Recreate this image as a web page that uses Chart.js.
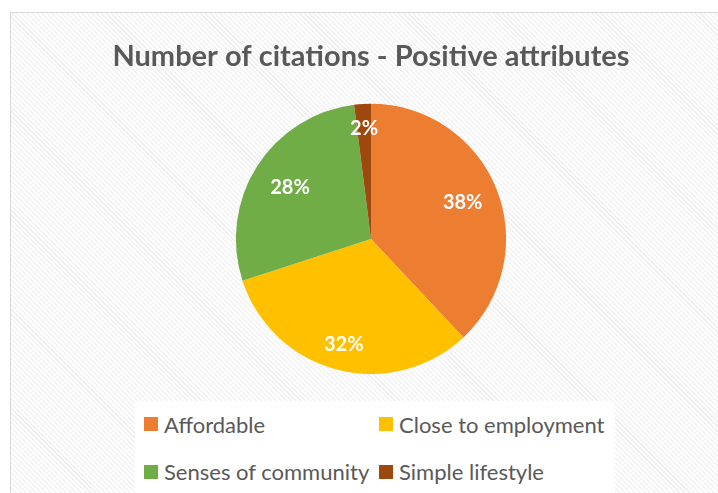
<!DOCTYPE html>
<html lang="en">
<head>
<meta charset="UTF-8">
<title>Number of citations - Positive attributes</title>
<script src="https://cdn.jsdelivr.net/npm/chart.js"></script>
<style>
  html, body { margin: 0; padding: 0; background: #ffffff; }
  body { width: 718px; height: 493px; overflow: hidden; position: relative; }
  .moldura {
    position: absolute; left: 10px; top: 12px; width: 720px; height: 490px;
    border: 1.5px solid #d9d9d9; box-sizing: border-box;
    background: repeating-linear-gradient(45deg, #ffffff 0px, #ffffff 2px, #f2f2f2 2px, #f2f2f2 3.5px);
  }
  canvas#grafico { position: absolute; left: 0; top: 0; }
  .legenda {
    position: absolute; left: 124px; top: 388px; width: 480px; height: 92px;
    background: #ffffff;
    display: grid; grid-template-columns: 235px 245px; row-gap: 12px;
    padding: 9px 0 0 9px; box-sizing: border-box;
    font-family: Lato, "Open Sans", sans-serif; font-size: 22px; color: #595959;
  }
  .item { display: flex; align-items: center; height: 28px; white-space: nowrap; }
  .item span.cor { width: 14px; height: 14px; margin-right: 6px; display: inline-block; }
</style>
</head>
<body>
<div class="moldura">
  <canvas id="grafico" width="708" height="481"></canvas>
  <div class="legenda" id="legenda"></div>
</div>

<script>
  const categorias = ["Affordable", "Close to employment", "Senses of community", "Simple lifestyle"];
  const citacoes = [38, 32, 28, 2];
  const cores = ["#ED7D31", "#FFC000", "#70AD47", "#9E480E"];

  // rótulos de porcentagem dentro das fatias
  const rotulosPct = {
    id: 'rotulosPct',
    afterDatasetsDraw(chart, args, opts) {
      const ctx = chart.ctx;
      const meta = chart.getDatasetMeta(0);
      const total = citacoes.reduce((a, b) => a + b, 0);
      ctx.save();
      ctx.font = 'bold 20px Lato, "Open Sans", sans-serif';
      ctx.fillStyle = '#ffffff';
      ctx.textAlign = 'center';
      ctx.textBaseline = 'middle';
      meta.data.forEach((arc, i) => {
        const meio = (arc.startAngle + arc.endAngle) / 2;
        const d = arc.outerRadius * opts.distancias[i];
        const x = arc.x + Math.cos(meio) * d;
        const y = arc.y + Math.sin(meio) * d;
        ctx.fillText(Math.round(citacoes[i] / total * 100) + '%', x, y);
      });
      ctx.restore();
    }
  };

  new Chart(document.getElementById('grafico'), {
    type: 'pie',
    data: {
      labels: categorias,
      datasets: [{
        data: citacoes,
        backgroundColor: cores,
        borderWidth: 0
      }]
    },
    options: {
      responsive: false,
      animation: false,
      layout: { padding: { top: 0, bottom: 120, left: 12, right: 0 } },
      plugins: {
        legend: { display: false },
        tooltip: { enabled: false },
        title: {
          display: true,
          text: 'Number of citations - Positive attributes',
          color: '#595959',
          font: { family: 'Lato, "Open Sans", sans-serif', size: 29, weight: 'bold' },
          padding: { top: 26, bottom: 30 }
        },
        rotulosPct: { distancias: [0.73, 0.81, 0.71, 0.82] }
      }
    },
    plugins: [rotulosPct]
  });

  // legenda em duas colunas
  const legenda = document.getElementById('legenda');
  categorias.forEach((nome, i) => {
    const item = document.createElement('div');
    item.className = 'item';
    item.innerHTML = '<span class="cor" style="background:' + cores[i] + '"></span>' + nome;
    legenda.appendChild(item);
  });
</script>
</body>
</html>
